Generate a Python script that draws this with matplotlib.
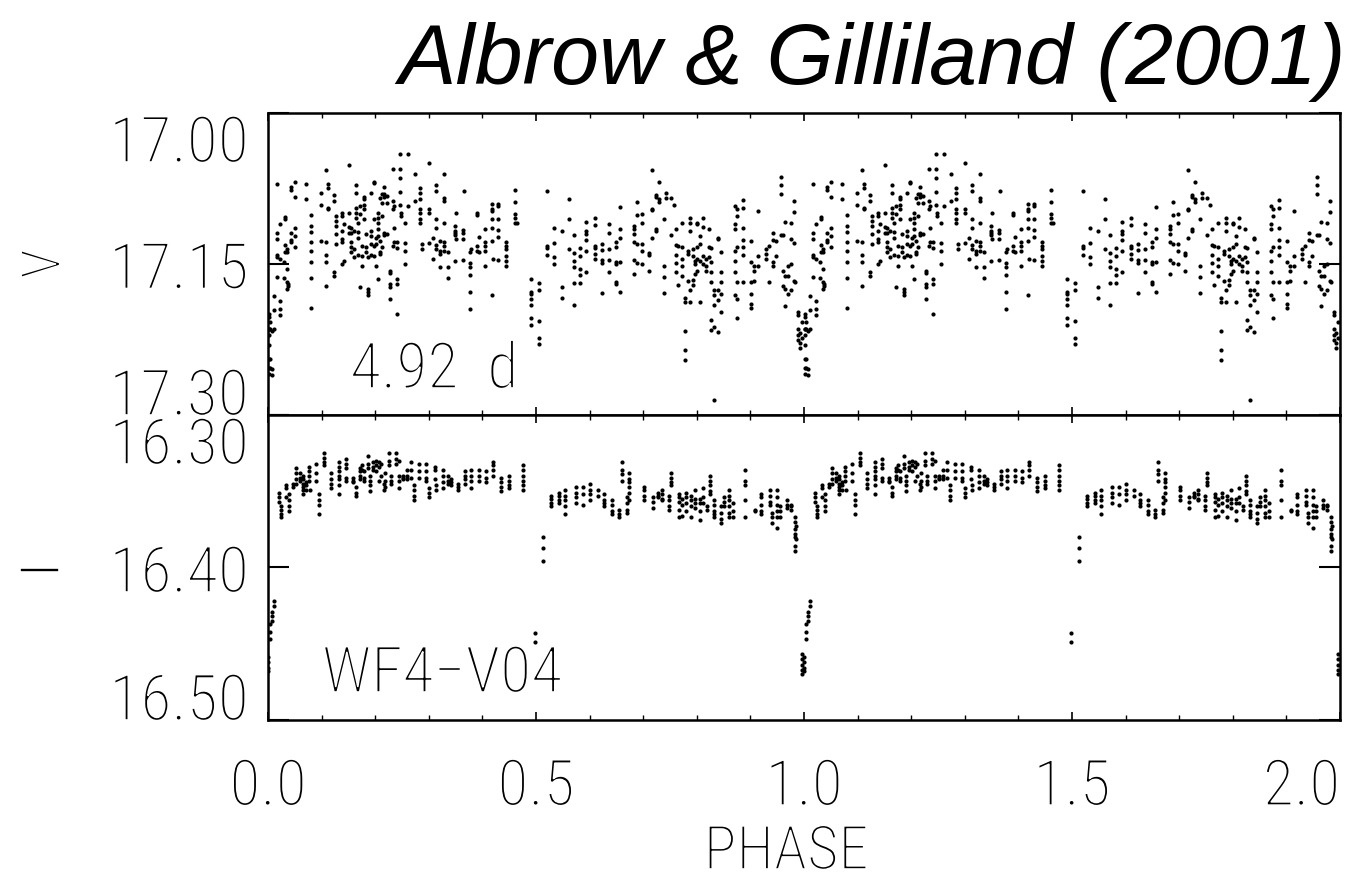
import numpy as np
import matplotlib
matplotlib.use('Agg')
import matplotlib.pyplot as plt
from matplotlib import font_manager
from matplotlib import patheffects
from matplotlib.ticker import MultipleLocator

# V light curve: one phase per column of dots, and the mags in that column
v_phase = [0.001, 0.002, 0.004, 0.007, 0.011, 0.017, 0.023, 0.029, 0.031, 0.035, 0.038, 0.043, 0.050,
           0.070, 0.080, 0.098, 0.109, 0.112, 0.123, 0.126, 0.138, 0.141, 0.152, 0.155, 0.160, 0.165,
           0.168, 0.172, 0.175, 0.179, 0.183, 0.187, 0.193, 0.197, 0.201, 0.206, 0.209, 0.213, 0.217,
           0.222, 0.227, 0.233, 0.236, 0.241, 0.247, 0.249, 0.255, 0.261, 0.274, 0.284, 0.287, 0.300,
           0.307, 0.314, 0.321, 0.329, 0.335, 0.349, 0.351, 0.363, 0.365, 0.376, 0.379, 0.389, 0.393,
           0.404, 0.417, 0.420, 0.430, 0.444, 0.461, 0.465, 0.490, 0.505,
           0.520, 0.534, 0.548, 0.561, 0.570, 0.582, 0.594, 0.610, 0.623, 0.637, 0.650, 0.657, 0.682,
           0.688, 0.697, 0.710, 0.716, 0.724, 0.729, 0.739, 0.743, 0.752, 0.757, 0.761, 0.765, 0.772,
           0.778, 0.783, 0.788, 0.792, 0.796, 0.801, 0.806, 0.812, 0.817, 0.822, 0.827, 0.832, 0.840,
           0.846, 0.871, 0.875, 0.887, 0.901, 0.907, 0.914, 0.929, 0.934, 0.943, 0.947, 0.957, 0.961,
           0.964, 0.970, 0.975, 0.981, 0.984, 0.989, 0.993, 0.996]
v_mags = [
    [17.215, 17.244, 17.253, 17.259],
    [17.200, 17.203, 17.215, 17.221, 17.230],
    [17.208, 17.215, 17.244, 17.253],
    [17.217, 17.254, 17.260],
    [17.182, 17.196, 17.215],
    [17.071, 17.119, 17.125, 17.141, 17.143, 17.163],
    [17.110, 17.145, 17.187, 17.195, 17.201],
    [17.148, 17.164],
    [17.103, 17.105, 17.131, 17.138],
    [17.135, 17.138, 17.155, 17.168, 17.175],
    [17.170, 17.172],
    [17.074, 17.076, 17.119, 17.126, 17.128],
    [17.069, 17.083, 17.114, 17.122, 17.133],
    [17.071, 17.085],
    [17.101, 17.112, 17.118, 17.128, 17.137, 17.148, 17.164, 17.194],
    [17.079, 17.091, 17.127],
    [17.057, 17.128, 17.141, 17.148, 17.172],
    [17.071, 17.075, 17.094, 17.095],
    [17.081, 17.087, 17.158, 17.162],
    [17.102, 17.107, 17.112, 17.120, 17.130],
    [17.099, 17.102, 17.117, 17.125, 17.128, 17.150],
    [17.110, 17.147],
    [17.052, 17.099, 17.113, 17.119],
    [17.114, 17.119, 17.128, 17.133, 17.138],
    [17.117, 17.135, 17.143],
    [17.072, 17.079, 17.094, 17.099, 17.104],
    [17.109, 17.118, 17.124, 17.141],
    [17.092, 17.100, 17.173],
    [17.132, 17.142, 17.152],
    [17.083, 17.085, 17.091, 17.095, 17.105],
    [17.120, 17.133, 17.138],
    [17.143, 17.175, 17.178, 17.181],
    [17.079, 17.117, 17.122, 17.130, 17.141],
    [17.069, 17.070, 17.105, 17.132, 17.142],
    [17.124, 17.130, 17.152],
    [17.099, 17.104, 17.109, 17.115, 17.122, 17.165],
    [17.084, 17.127, 17.138, 17.140],
    [17.080, 17.089, 17.102, 17.133],
    [17.074, 17.080, 17.083, 17.119, 17.121],
    [17.082, 17.089, 17.120],
    [17.157, 17.159, 17.170, 17.173, 17.185],
    [17.056, 17.087, 17.095, 17.132],
    [17.092, 17.114, 17.128],
    [17.128, 17.134, 17.165, 17.170, 17.200],
    [17.041, 17.056, 17.065, 17.078, 17.091],
    [17.099, 17.102],
    [17.109, 17.129, 17.137, 17.150],
    [17.041, 17.092],
    [17.061, 17.087],
    [17.075, 17.079, 17.085, 17.095, 17.099, 17.105, 17.109],
    [17.130, 17.135],
    [17.050, 17.095, 17.099, 17.129],
    [17.124, 17.145],
    [17.072, 17.077, 17.105, 17.114, 17.131, 17.135],
    [17.127, 17.137, 17.140, 17.153],
    [17.061, 17.084, 17.087, 17.109, 17.128, 17.132, 17.137],
    [17.138, 17.153, 17.164],
    [17.112, 17.117, 17.119, 17.121, 17.147],
    [17.099, 17.125],
    [17.116, 17.119, 17.125, 17.146],
    [17.077],
    [17.138, 17.149, 17.153, 17.161, 17.178, 17.195],
    [17.135],
    [17.099, 17.101, 17.132, 17.137],
    [17.123, 17.138],
    [17.115, 17.128, 17.132, 17.137, 17.152],
    [17.090, 17.095, 17.097, 17.105, 17.114, 17.127, 17.181],
    [17.145],
    [17.090, 17.092, 17.105, 17.116, 17.123, 17.146],
    [17.128, 17.132, 17.135, 17.142, 17.147, 17.152],
    [17.076, 17.088, 17.100, 17.104, 17.109],
    [17.109],
    [17.165, 17.178, 17.180, 17.185, 17.191, 17.204, 17.211],
    [17.169, 17.176, 17.207, 17.224, 17.229],
    [17.077, 17.132, 17.134, 17.141],
    [17.114, 17.129, 17.143, 17.150],
    [17.117, 17.173, 17.184],
    [17.085, 17.105, 17.135],
    [17.121, 17.139, 17.147, 17.153, 17.169, 17.191],
    [17.134, 17.142, 17.155, 17.161, 17.169],
    [17.108, 17.117, 17.120, 17.126, 17.137, 17.158],
    [17.104, 17.111, 17.132, 17.134, 17.140, 17.145],
    [17.130, 17.136, 17.146, 17.149, 17.179],
    [17.110, 17.119, 17.135, 17.146, 17.158],
    [17.128, 17.133, 17.148, 17.150, 17.168, 17.170],
    [17.093, 17.115, 17.124, 17.148, 17.178],
    [17.112, 17.115, 17.120, 17.128, 17.146, 17.160],
    [17.088, 17.101, 17.130, 17.149],
    [17.100, 17.109, 17.130, 17.137, 17.150],
    [17.139, 17.141, 17.157],
    [17.057, 17.095, 17.096, 17.124],
    [17.081, 17.083, 17.115, 17.117],
    [17.069, 17.085, 17.088],
    [17.105, 17.152, 17.163, 17.179],
    [17.079, 17.084],
    [17.084, 17.121],
    [17.091],
    [17.115, 17.131, 17.141, 17.149, 17.158],
    [17.132, 17.171],
    [17.109, 17.133, 17.145, 17.152, 17.162],
    [17.184, 17.188, 17.217, 17.235, 17.245],
    [17.137, 17.140, 17.167],
    [17.104, 17.109, 17.117, 17.176, 17.188],
    [17.135, 17.142, 17.166, 17.171],
    [17.147, 17.150, 17.160],
    [17.109, 17.110, 17.133, 17.145, 17.157],
    [17.122, 17.130, 17.147, 17.188],
    [17.104, 17.113, 17.142, 17.150],
    [17.145, 17.152, 17.157],
    [17.115, 17.133, 17.143],
    [17.134, 17.148, 17.158, 17.168, 17.206, 17.216],
    [17.176, 17.181, 17.191, 17.213, 17.285],
    [17.124, 17.125, 17.176, 17.186, 17.218],
    [17.138, 17.158, 17.168, 17.180, 17.198],
    [17.092, 17.110, 17.115, 17.137, 17.147, 17.158, 17.181],
    [17.095, 17.102, 17.133, 17.168, 17.185, 17.204],
    [17.086, 17.094, 17.114, 17.126, 17.133, 17.141, 17.168],
    [17.127, 17.148, 17.168, 17.180, 17.190, 17.194],
    [17.152, 17.157, 17.167],
    [17.097, 17.142, 17.152],
    [17.135, 17.140, 17.145],
    [17.132, 17.168],
    [17.119, 17.126, 17.148, 17.152],
    [17.127, 17.142],
    [17.064, 17.072, 17.080, 17.121],
    [17.121, 17.157, 17.172],
    [17.108, 17.162, 17.175, 17.192],
    [17.152, 17.162, 17.180],
    [17.109, 17.125, 17.150, 17.176],
    [17.087, 17.098, 17.129, 17.167],
    [17.168],
    [17.198, 17.201, 17.215, 17.221, 17.225],
    [17.219, 17.228, 17.233],
    [17.208, 17.224],
]

# I light curve
i_phase = [0.000, 0.003, 0.008, 0.012, 0.020, 0.025, 0.034, 0.039, 0.047, 0.053, 0.060, 0.065, 0.070,
           0.076, 0.079, 0.090, 0.095, 0.104, 0.118, 0.132, 0.146, 0.158, 0.165, 0.171, 0.176, 0.180,
           0.186, 0.191, 0.196, 0.202, 0.207, 0.211, 0.217, 0.219, 0.226, 0.230, 0.238, 0.244, 0.252,
           0.259, 0.267, 0.273, 0.281, 0.294, 0.300, 0.311, 0.314, 0.326, 0.335, 0.342, 0.354, 0.368,
           0.379, 0.393, 0.406, 0.419, 0.435, 0.449, 0.476, 0.498, 0.513,
           0.528, 0.542, 0.555, 0.574, 0.587, 0.601, 0.615, 0.627, 0.641, 0.654, 0.661, 0.669, 0.673,
           0.702, 0.719, 0.727, 0.736, 0.748, 0.752, 0.766, 0.772, 0.780, 0.789, 0.796, 0.806, 0.811,
           0.819, 0.824, 0.833, 0.845, 0.851, 0.861, 0.867, 0.890, 0.909, 0.919, 0.936, 0.941, 0.950,
           0.956, 0.969, 0.975, 0.983, 0.986, 0.996]
i_mags = [
    [16.459, 16.462, 16.466, 16.468],
    [16.437, 16.442, 16.447],
    [16.429, 16.432, 16.435],
    [16.422, 16.425],
    [16.351, 16.354, 16.357],
    [16.360, 16.362, 16.365, 16.367],
    [16.346, 16.348, 16.354],
    [16.352, 16.356, 16.360, 16.363],
    [16.345, 16.347],
    [16.335, 16.338, 16.342, 16.345],
    [16.338, 16.341, 16.343],
    [16.340, 16.342, 16.345, 16.347, 16.349, 16.352],
    [16.344, 16.346, 16.349],
    [16.334, 16.337, 16.340, 16.343],
    [16.349],
    [16.332, 16.338, 16.343],
    [16.352, 16.356, 16.359, 16.365],
    [16.325, 16.328, 16.331, 16.333],
    [16.338, 16.342, 16.345, 16.348],
    [16.331, 16.334, 16.337, 16.340, 16.342, 16.346, 16.352],
    [16.329, 16.332, 16.335, 16.341, 16.343],
    [16.341, 16.343, 16.344],
    [16.347, 16.351, 16.353],
    [16.335, 16.337, 16.340, 16.342],
    [16.333, 16.336],
    [16.337, 16.341, 16.343],
    [16.327, 16.332, 16.335],
    [16.340, 16.343, 16.346, 16.350],
    [16.331, 16.334, 16.336],
    [16.330, 16.333, 16.337],
    [16.331, 16.334, 16.343],
    [16.332, 16.340],
    [16.345, 16.349],
    [16.338, 16.343, 16.347],
    [16.325, 16.330, 16.333],
    [16.340, 16.343, 16.345],
    [16.325, 16.329, 16.332],
    [16.330, 16.340, 16.343, 16.348],
    [16.340, 16.341, 16.342],
    [16.336, 16.340, 16.342],
    [16.331, 16.336, 16.341],
    [16.346, 16.349, 16.353, 16.356],
    [16.332, 16.337, 16.341],
    [16.332, 16.337, 16.341, 16.343],
    [16.348, 16.351, 16.354],
    [16.334, 16.336, 16.342],
    [16.346, 16.349],
    [16.336, 16.340, 16.344, 16.348],
    [16.340, 16.343, 16.345],
    [16.342, 16.344, 16.346],
    [16.345, 16.347, 16.349],
    [16.337, 16.340, 16.342, 16.345],
    [16.336, 16.340, 16.343, 16.348],
    [16.336, 16.340, 16.343],
    [16.337, 16.341, 16.344],
    [16.331, 16.333, 16.336, 16.340],
    [16.341, 16.344, 16.347, 16.350],
    [16.340, 16.343, 16.346, 16.348],
    [16.333, 16.336, 16.340, 16.343, 16.346, 16.349],
    [16.443, 16.449],
    [16.380, 16.387, 16.396],
    [16.353, 16.355, 16.358, 16.360],
    [16.351, 16.353, 16.356, 16.358],
    [16.349, 16.353, 16.356, 16.360, 16.365],
    [16.347, 16.351, 16.354, 16.358],
    [16.347, 16.352, 16.359],
    [16.345, 16.349, 16.352, 16.356],
    [16.349, 16.353],
    [16.352, 16.356, 16.358, 16.360],
    [16.356, 16.359, 16.363, 16.365],
    [16.362, 16.365, 16.367],
    [16.331, 16.336, 16.339, 16.343],
    [16.354, 16.358, 16.362, 16.364],
    [16.338, 16.342, 16.344, 16.347, 16.351, 16.356],
    [16.347, 16.349, 16.353, 16.356],
    [16.354, 16.357, 16.361],
    [16.351, 16.353, 16.354],
    [16.349, 16.352, 16.355, 16.356],
    [16.353, 16.356, 16.360, 16.362],
    [16.338, 16.341, 16.344, 16.346],
    [16.352, 16.354, 16.357, 16.362, 16.367],
    [16.355, 16.359, 16.366],
    [16.351, 16.354, 16.358, 16.363],
    [16.353, 16.356, 16.360, 16.367],
    [16.349, 16.355, 16.358, 16.361],
    [16.355, 16.358, 16.363, 16.369],
    [16.348, 16.354, 16.358],
    [16.360, 16.362],
    [16.340, 16.343, 16.346, 16.350, 16.352],
    [16.356, 16.359, 16.363, 16.365, 16.367],
    [16.360, 16.364, 16.368, 16.371],
    [16.354, 16.357, 16.360],
    [16.349, 16.353, 16.356, 16.360, 16.364, 16.367],
    [16.358, 16.363, 16.367],
    [16.336, 16.343, 16.346, 16.356, 16.367],
    [16.362, 16.363],
    [16.352, 16.354, 16.359, 16.363, 16.365],
    [16.349, 16.353, 16.357, 16.359],
    [16.364, 16.367, 16.371],
    [16.349, 16.354, 16.359, 16.363, 16.367, 16.374],
    [16.360, 16.363, 16.367],
    [16.356, 16.359, 16.361],
    [16.359, 16.360, 16.362],
    [16.367, 16.370, 16.375, 16.378, 16.380, 16.386, 16.389],
    [16.373, 16.381],
    [16.457, 16.460, 16.464, 16.467, 16.470],
]

v_ticks = [17.00, 17.15, 17.30]
i_ticks = [16.30, 16.40, 16.50]
phase_ticks = [0.0, 0.5, 1.0, 1.5, 2.0]


def unfold(phases, groups):
    x = []
    y = []
    for p, g in zip(phases, groups):
        for m in g:
            x.append(p)
            y.append(m)
    x = np.array(x)
    y = np.array(y)
    # the folded curve is drawn over two cycles
    return np.concatenate([x, x + 1.0]), np.concatenate([y, y])


# pick a narrow font for the axis text if one is there, in its lightest weight
names = set(f.name for f in font_manager.fontManager.ttflist)
lab_font = 'DejaVu Sans'
for cand in ['Roboto Condensed', 'Liberation Sans Narrow']:
    if cand in names:
        lab_font = cand
        break
lab_weight = 400
for f in font_manager.fontManager.ttflist:
    w = f.weight
    if isinstance(w, str):
        w = font_manager.weight_dict.get(w, 400)
    if f.name == lab_font and f.style == 'normal' and w < lab_weight:
        lab_weight = w
lab_size = 46 if lab_font != 'DejaVu Sans' else 36
lab = dict(family=lab_font, weight=lab_weight, size=lab_size)
# thin the strokes a little, the original lettering is hairline
thin = [patheffects.Stroke(linewidth=1.2, foreground='white')]

W, H = 1357, 882
fig = plt.figure(figsize=(W / 100, H / 100), dpi=100)
left, right = 268, 1340
ax1 = fig.add_axes([left / W, 1 - 415 / H, (right - left) / W, (415 - 113) / H])
ax2 = fig.add_axes([left / W, 1 - 720 / H, (right - left) / W, (720 - 415) / H])

vx, vy = unfold(v_phase, v_mags)
ix, iy = unfold(i_phase, i_mags)
ax1.plot(vx, vy, 'o', ms=3.0, mew=0, color='black')
ax2.plot(ix, iy, 'o', ms=3.0, mew=0, color='black')

ax1.set_ylim(17.30, 17.00)
ax2.set_ylim(16.50, 16.30)

for ax, ticks in [(ax1, v_ticks), (ax2, i_ticks)]:
    ax.set_xlim(0, 2.0)
    ax.set_xticks(phase_ticks)
    ax.xaxis.set_minor_locator(MultipleLocator(0.1))
    ax.set_yticks(ticks)
    ax.set_yticklabels(['%.2f' % t for t in ticks], fontdict=lab)
    ax.tick_params(which='both', direction='in', top=True, right=True)
    ax.tick_params(axis='x', which='major', length=6, width=1.2, pad=26)
    ax.tick_params(axis='x', which='minor', length=3.5, width=1.0)
    ax.tick_params(axis='y', which='major', length=15, width=1.5, pad=14)
    for s in ax.spines.values():
        s.set_linewidth(1.8)
    yl = ax.get_yticklabels()
    yl[0].set_va('top')
    yl[-1].set_va('baseline')
    for t in yl:
        t.set_path_effects(thin)

ax1.tick_params(axis='x', labelbottom=False)
ax2.set_xticklabels(['%.1f' % t for t in phase_ticks], fontdict=lab)
for t in ax2.get_xticklabels():
    t.set_path_effects(thin)
ax2.get_xticklabels()[-1].set_ha('right')

fig.text(786 / W, 1 - 869 / H, 'PHASE', ha='center', va='baseline', path_effects=thin,
         family=lab_font, weight=lab_weight, size=lab_size * 0.95)
fig.text(45 / W, 1 - 264 / H, 'V', rotation=90, ha='center', va='center', path_effects=thin,
         family=lab_font, weight=lab_weight, size=lab_size * 0.85)
fig.text(44 / W, 1 - 570 / H, 'I', rotation=90, ha='center', va='center', path_effects=thin,
         family=lab_font, weight=lab_weight, size=lab_size * 0.85)
fig.text(350 / W, 1 - 388 / H, '4.92  d', ha='left', va='baseline', path_effects=thin, **lab)
fig.text(322 / W, 1 - 692 / H, 'WF4\u2212V04', ha='left', va='baseline', path_effects=thin, **lab)

fig.text(1346 / W, 1 - 84 / H, 'Albrow & Gilliland (2001)', ha='right', va='baseline',
         family='Liberation Sans', style='italic', size=62)

fig.savefig('out.png', dpi=100)
